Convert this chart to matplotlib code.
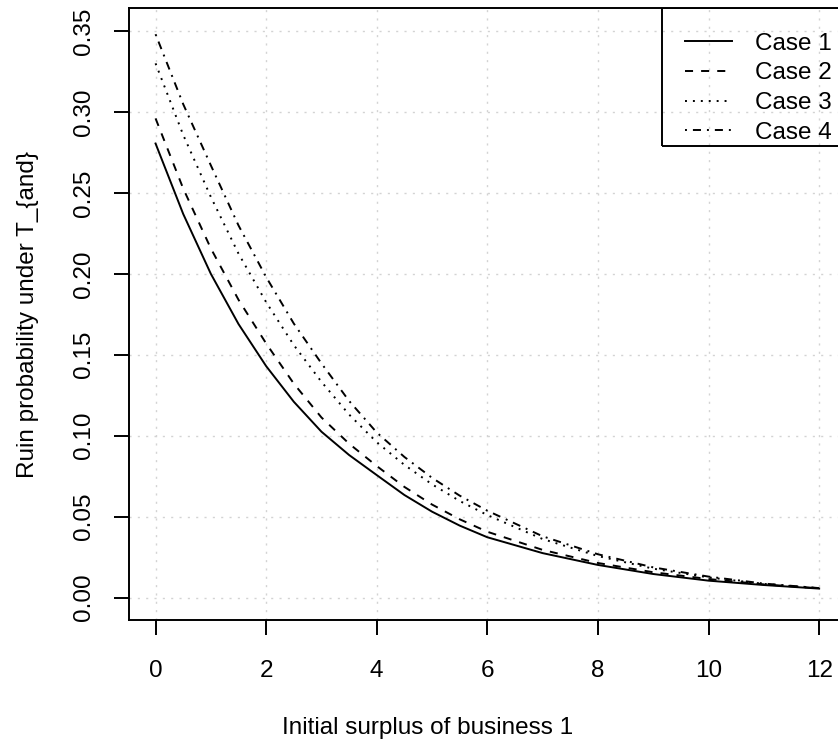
import numpy as np
import matplotlib.pyplot as plt
from matplotlib.patches import Rectangle

plt.rcParams['font.family'] = ['Liberation Sans', 'DejaVu Sans']
plt.rcParams['lines.scale_dashes'] = False

# ===== data =====
x_vals = [0, 0.5, 1, 1.5, 2, 2.5, 3, 3.5, 4, 4.5, 5, 5.5, 6, 7, 8, 9, 10, 11, 12]

case1 = [0.2805, 0.237, 0.200, 0.169, 0.143, 0.121, 0.1025, 0.0881, 0.0757,
         0.0634, 0.0531, 0.0445, 0.0373, 0.0275, 0.0202, 0.0146, 0.0105, 0.0078, 0.0056]
case2 = [0.296, 0.2527, 0.2157, 0.184, 0.157, 0.1322, 0.1113, 0.0951, 0.0813,
         0.0684, 0.0575, 0.0484, 0.0407, 0.0295, 0.0214, 0.0157, 0.0115, 0.0082, 0.0058]
case3 = [0.330, 0.2858, 0.2475, 0.2125, 0.1825, 0.156, 0.1333, 0.1131, 0.096,
         0.082, 0.070, 0.0597, 0.051, 0.0362, 0.0257, 0.0179, 0.0125, 0.0085, 0.0058]
case4 = [0.348, 0.3048, 0.267, 0.2299, 0.198, 0.1693, 0.1447, 0.1215, 0.102,
         0.0869, 0.074, 0.063, 0.0537, 0.0379, 0.0268, 0.0187, 0.013, 0.0087, 0.0059]

labels = ["Case 1", "Case 2", "Case 3", "Case 4"]
x_ticks = [0, 2, 4, 6, 8, 10, 12]
y_ticks = [0.00, 0.05, 0.10, 0.15, 0.20, 0.25, 0.30, 0.35]

# R風の線種 (ポイント単位)
styles = [
    "-",
    (0, (5.8, 5.8)),
    (0, (1.4, 4.3)),
    (0, (1.4, 4.3, 5.8, 4.3)),
]

# 図の寸法 (ピクセル)
W, H = 838, 742
ax_l, ax_b, ax_w, ax_h = 129, 122, 716.7, 611.7

fig = plt.figure(figsize=(W / 100, H / 100), dpi=100)
ax = fig.add_axes([ax_l / W, ax_b / H, ax_w / W, ax_h / H])

for y, lab, ls in zip([case1, case2, case3, case4], labels, styles):
    ax.plot(x_vals, y, color="black", linewidth=1.4, linestyle=ls, label=lab)

ax.set_xlim(-0.48, 12.48)
ax.set_ylim(-0.0138, 0.364)
ax.set_xticks(x_ticks)
ax.set_xticklabels([str(t) for t in x_ticks])
ax.set_yticks(y_ticks)
ax.set_yticklabels([f"{t:.2f}" for t in y_ticks])

ax.grid(True, color="#D3D3D3", linewidth=1.0, linestyle=(0, (1.5, 4.5)))
ax.set_axisbelow(True)

for side in ["left", "bottom", "top", "right"]:
    ax.spines[side].set_linewidth(1.4)

ax.tick_params(axis="both", direction="out", length=10.8, width=1.4,
               labelsize=17.5, colors="black")
ax.tick_params(axis="x", pad=18)
ax.tick_params(axis="y", pad=14)
for lbl in ax.get_yticklabels():
    lbl.set_rotation(90)
    lbl.set_va("center")

ax.set_xlabel("Initial surplus of business 1", fontsize=17.5)
ax.xaxis.set_label_coords((428 - ax_l) / ax_w, -(728 - (H - ax_b)) / ax_h)
ax.xaxis.label.set_va("center")
ax.set_ylabel("Ruin probability under T_{and}", fontsize=17.5, labelpad=24)

# 凡例 (枠は別に描く: R風に背景なし)
leg = ax.legend(loc="upper right", bbox_to_anchor=(1 + 10 / ax_w, 1),
                borderaxespad=0, fontsize=17.5, frameon=False,
                handlelength=1.9, handletextpad=0.95, labelspacing=0.32,
                borderpad=1.0)
box_left = (662 - ax_l) / ax_w
box_bottom = ((H - ax_b) - 146) / ax_h
ax.add_patch(Rectangle((box_left, box_bottom), 1 - box_left, 1 - box_bottom,
                       transform=ax.transAxes, fill=False, edgecolor="black",
                       linewidth=1.4, zorder=4))

fig.savefig("out.png", dpi=100)
plt.close(fig)
